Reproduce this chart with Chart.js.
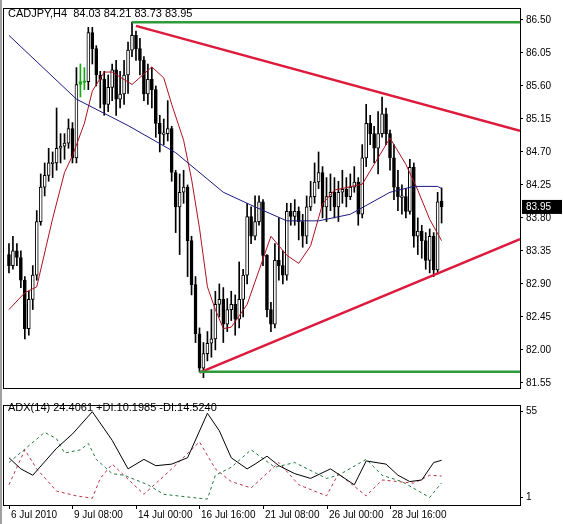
<!DOCTYPE html>
<html><head><meta charset="utf-8">
<script src="https://cdn.jsdelivr.net/npm/chart.js@4/dist/chart.umd.min.js"></script>
<style>
html,body{margin:0;padding:0;background:#fff;width:563px;height:524px;overflow:hidden;position:relative;font-family:"Liberation Sans",Arial,sans-serif}
canvas{position:absolute;left:0}
#c1{top:0}#c2{top:397px}
.t{position:absolute;font-size:11px;color:#000;white-space:pre}
#edgeL{position:absolute;left:0;top:0;width:2px;height:524px;background:#a0a0a0}
</style></head><body>
<div id="edgeL"></div>
<canvas id="c1" width="563" height="397"></canvas>
<canvas id="c2" width="563" height="127"></canvas>
<div class="t" style="left:8px;top:7px">CADJPY,H4  84.03 84.21 83.73 83.95</div>
<div class="t" style="left:8px;top:401px">ADX(14) 24.4061 +DI:10.1985 -DI:14.5240</div>
<script>
// ---- data ----
const closes=[83.15,83.35,83.26,82.95,82.29,82.69,83.02,83.75,84.22,84.38,84.55,84.55,84.75,84.78,84.82,85.02,84.62,85.62,85.66,85.66,
86.33,86.11,85.75,85.69,85.35,85.58,85.82,85.42,85.49,85.75,86.09,86.29,86.11,85.95,85.49,85.69,85.55,85.09,84.95,84.95,
85.02,84.42,83.95,84.15,84.22,83.49,82.89,82.22,81.75,81.95,82.09,82.15,82.62,82.69,82.35,82.55,82.62,82.42,82.69,83.02,
83.82,83.55,83.75,84.02,83.29,82.55,82.35,83.22,83.15,83.02,83.89,83.82,83.89,83.75,83.55,83.95,84.09,84.29,84.42,83.95,
84.09,84.15,83.95,84.15,84.19,84.09,84.22,84.29,83.85,84.62,85.09,84.95,84.75,84.95,85.22,84.95,84.62,84.22,84.09,84.09,
83.89,84.49,83.55,83.62,83.49,83.22,83.55,83.09,84.02,83.95];
const opens=[83.30,83.15,83.35,83.26,82.95,82.29,82.69,83.02,83.75,84.22,84.38,84.55,84.55,84.75,84.78,84.82,85.02,84.62,85.62,85.66,
85.66,86.33,86.11,85.75,85.69,85.35,85.58,85.82,85.42,85.49,85.75,86.09,86.29,86.11,85.95,85.49,85.69,85.55,85.09,84.95,
84.95,85.02,84.42,83.95,84.15,84.22,83.49,82.89,82.22,81.75,81.95,82.09,82.15,82.62,82.69,82.35,82.55,82.62,82.42,82.69,
83.02,83.82,83.55,83.75,84.02,83.29,82.55,82.35,83.22,83.15,83.02,83.89,83.82,83.89,83.75,83.55,83.95,84.09,84.29,84.42,
83.95,84.09,84.15,83.95,84.15,84.19,84.09,84.22,84.29,83.85,84.62,85.09,84.95,84.75,84.95,85.22,84.95,84.62,84.22,84.09,
84.09,83.89,84.49,83.55,83.62,83.49,83.22,83.55,83.09,84.03];
const highs=[83.45,83.55,83.45,83.35,83.00,82.80,83.15,83.90,84.40,84.55,84.75,84.70,85.30,84.95,84.95,85.15,85.10,85.85,85.90,85.85,
86.40,86.40,86.15,85.80,85.80,85.75,85.90,85.95,85.80,85.95,86.20,86.47,86.35,86.25,86.00,85.90,85.85,85.60,85.20,85.15,
85.40,85.05,84.45,84.40,84.45,84.25,83.55,83.00,82.30,82.10,82.25,82.55,82.80,82.90,82.85,82.70,82.80,82.75,83.20,83.10,
84.00,83.95,84.10,84.10,84.05,83.30,82.65,83.45,83.80,83.35,84.00,84.00,84.05,83.95,83.85,84.10,84.30,84.55,84.70,84.50,
84.35,84.40,84.35,84.30,84.45,84.35,84.40,84.50,84.35,84.80,85.35,85.20,85.05,85.25,85.45,85.30,85.00,84.80,84.45,84.25,
84.20,84.60,84.55,83.80,83.70,83.60,83.65,83.60,84.15,84.21];
const lows=[83.05,83.10,83.15,82.85,82.15,82.20,82.55,82.95,83.70,84.10,84.30,84.35,84.45,84.55,84.60,84.75,84.55,84.55,85.45,85.55,
85.55,85.90,85.60,85.30,85.20,85.25,85.40,85.20,85.30,85.35,85.50,86.00,85.95,85.75,85.40,85.35,85.30,84.90,84.70,84.80,
84.85,84.30,83.60,83.30,84.00,83.00,82.75,82.10,81.70,81.62,81.85,81.90,82.00,82.45,82.10,82.25,82.40,82.20,82.30,82.45,
82.90,83.45,83.50,83.70,83.15,82.45,82.25,82.30,82.95,82.90,82.95,83.70,83.70,83.50,83.40,83.45,83.90,84.00,84.20,83.80,
83.75,83.90,83.80,83.75,84.00,83.95,84.05,84.15,83.70,83.80,84.50,84.80,84.55,84.40,84.90,84.80,84.45,84.05,83.90,83.85,
83.80,83.85,83.40,83.30,83.25,83.10,83.05,83.00,83.05,83.73];
const dojiGreen=[18,19];
const redMaIdx=[0,4,7,11,14,16,19,21,24,26,31,36,39,41,44,46,48,50,52,54,56,60,66,70,73,76,79,82,89,92,96,100,103,106,109];
const redMaVal=[82.55,82.78,82.86,83.79,84.42,84.65,85.09,85.53,85.79,85.79,85.62,85.86,85.71,85.35,84.86,84.33,83.66,82.86,82.55,82.29,82.31,82.62,83.55,83.29,83.18,83.42,83.99,84.18,84.26,84.53,84.89,84.53,84.18,83.78,83.49];
const blueMaIdx=[0,17,30,42,54,62,70,78,86,96,102,108,109];
const blueMaVal=[86.29,85.42,85.06,84.69,84.15,83.95,83.76,83.76,83.85,84.15,84.23,84.23,84.20];
const priceTicks=[86.50,86.05,85.60,85.15,84.70,84.25,83.80,83.35,82.90,82.45,82.00,81.55];
const lastPrice=83.95;
const upperLine=[[32,86.42],[128.75,84.99]];
const lowerLine=[[48,81.69],[128.75,83.51]];
const topLevel=[[31,86.47],[128.75,86.47]];
const bottomLevel=[[48,81.70],[128.75,81.70]];
const timeLabels=["6 Jul 2010","9 Jul 08:00","14 Jul 00:00","16 Jul 16:00","21 Jul 08:00","26 Jul 00:00","28 Jul 16:00"];
const timeLabelIdx=[0,16,32,48,64,80,96];
const adxIdx=[0,3,6,12,16,21,26,30,34,37,41,45,50,53,56,60,62,65,68,72,76,81,87,90,95,98,101,104,107,109];
const adxVal=[26,19,15,32,41,55,37,19,25,21,22,26,54,43,26,19,22,27,21,16,13,19,9,24,22,15,11,12,23,24.4];
const pdiIdx=[0,9,12,14,18,20,22,26,29,35,39,46,50,52,56,61,67,72,80,83,90,94,99,106,109];
const pdiVal=[23,42,38,29,31,35,25,16,15,9,3,1,0,15,20,31,20,23,13,15,25,15,11,1,10.2];
const mdiIdx=[0,4,7,12,17,21,23,26,34,41,48,52,56,61,68,73,80,83,90,94,102,106,109];
const mdiVal=[9,31,19,5,2,0.5,13,22,3,19,36,19,11,7,23,9,2,16,2,12,10,15,14.5];
// ---- helpers ----
const FONT={family:"'Liberation Sans', Arial, sans-serif",size:10};
const XMIN=-1.25, XMAX=128.75;
function pairs(ix,v){return ix.map((x,k)=>({x:x,y:v[k]}));}
const wicks=closes.map((c,i)=>({x:i,y:[lows[i],highs[i]]}));
const bodies=closes.map((c,i)=>{const o=opens[i];let lo=Math.min(o,c),hi=Math.max(o,c);if(hi-lo<0.015){hi+=0.01;lo-=0.01;}return {x:i,y:[lo,hi]};});
const bodyFill=closes.map((c,i)=>dojiGreen.includes(i)?'#19a619':(c<opens[i]?'#000':'#fff'));
const bodyBorder=closes.map((c,i)=>dojiGreen.includes(i)?'#19a619':'#000');
const wickCol=closes.map((c,i)=>dojiGreen.includes(i)?'#19a619':'#000');
const framePlugin={id:'frame',afterDraw(ch){const a=ch.chartArea,ctx=ch.ctx;ctx.save();ctx.strokeStyle='#000';ctx.lineWidth=1;ctx.strokeRect(Math.round(a.left)-0.5,Math.round(a.top)-0.5,Math.round(a.right-a.left)+1,Math.round(a.bottom-a.top)+1);ctx.restore();}};
const lastPlugin={id:'lastp',afterDraw(ch){const y=ch.scales.y.getPixelForValue(lastPrice),ctx=ch.ctx,x=ch.chartArea.right+2;ctx.save();ctx.fillStyle='#000';ctx.fillRect(x,y-7,40,14);ctx.fillStyle='#fff';ctx.font="10px 'Liberation Sans', Arial";ctx.textBaseline='middle';ctx.fillText(lastPrice.toFixed(2),x+4,y+0.5);ctx.restore();}};
const lineDs=(d,color,w)=>({type:'line',data:d,borderColor:color,borderWidth:w,pointRadius:0,fill:false,tension:0,spanGaps:true,order:0});
new Chart(document.getElementById('c1'),{
  data:{datasets:[
    lineDs(pairs(blueMaIdx,blueMaVal),'#1a1a80',1),
    lineDs(pairs(redMaIdx,redMaVal),'#b01020',1),
    lineDs(topLevel.map(p=>({x:p[0],y:p[1]})),'#2e9a3a',2.5),
    lineDs(bottomLevel.map(p=>({x:p[0],y:p[1]})),'#2e9a3a',2.5),
    lineDs(upperLine.map(p=>({x:p[0],y:p[1]})),'#dd1a3c',2.5),
    lineDs(lowerLine.map(p=>({x:p[0],y:p[1]})),'#dd1a3c',2.5),
    {type:'bar',data:bodies,backgroundColor:bodyFill,borderColor:bodyBorder,borderWidth:1,borderSkipped:false,barThickness:3,grouped:false,order:1},
    {type:'bar',data:wicks,backgroundColor:wickCol,borderWidth:0,barThickness:1,grouped:false,order:2}
  ]},
  options:{responsive:false,animation:false,events:[],
    layout:{padding:{left:4,top:8,right:0,bottom:1}},
    plugins:{legend:{display:false},tooltip:{enabled:false}},
    scales:{
      x:{type:'linear',min:XMIN,max:XMAX,display:false,offset:false},
      y:{position:'right',min:81.48,max:86.65,
        afterBuildTicks:s=>{s.ticks=priceTicks.map(v=>({value:v}));},
        afterFit:s=>{s.width=43;},
        grid:{drawOnChartArea:false,drawTicks:true,tickLength:3,color:'#000'},
        border:{display:false},
        ticks:{color:'#000',font:FONT,padding:3,callback:v=>v.toFixed(2)}}
    }},
  plugins:[framePlugin,lastPlugin]
});
const timePlugin={id:'time',afterDraw(ch){const ctx=ch.ctx,xs=ch.scales.x,b=ch.chartArea.bottom;ctx.save();ctx.fillStyle='#000';ctx.strokeStyle='#000';ctx.font="10px 'Liberation Sans', Arial";ctx.textBaseline='top';
 timeLabelIdx.forEach((ix,k)=>{const x=Math.round(xs.getPixelForValue(ix));ctx.beginPath();ctx.moveTo(x+0.5,b);ctx.lineTo(x+0.5,b+4);ctx.stroke();ctx.fillText(timeLabels[k],x+2,b+5);});ctx.restore();}};
const dash=(d,color)=>({type:'line',data:d,borderColor:color,borderWidth:1,borderDash:[3,3],pointRadius:0,fill:false,tension:0});
new Chart(document.getElementById('c2'),{
  data:{datasets:[
    {type:'line',data:pairs(adxIdx,adxVal),borderColor:'#000',borderWidth:1,pointRadius:0,fill:false,tension:0},
    dash(pairs(pdiIdx,pdiVal),'#1e7a3a'),
    dash(pairs(mdiIdx,mdiVal),'#c0304a')
  ]},
  options:{responsive:false,animation:false,events:[],
    layout:{padding:{left:4,top:3,right:0,bottom:19}},
    plugins:{legend:{display:false},tooltip:{enabled:false}},
    scales:{
      x:{type:'linear',min:XMIN,max:XMAX,display:false},
      y:{position:'right',min:-3.75,max:58.6,
        afterBuildTicks:s=>{s.ticks=[{value:55},{value:1}];},
        afterFit:s=>{s.width=43;},
        grid:{drawOnChartArea:false,drawTicks:true,tickLength:3,color:'#000'},
        border:{display:false},
        ticks:{color:'#000',font:FONT,padding:3}}
    }},
  plugins:[framePlugin,timePlugin]
});
</script></body></html>
